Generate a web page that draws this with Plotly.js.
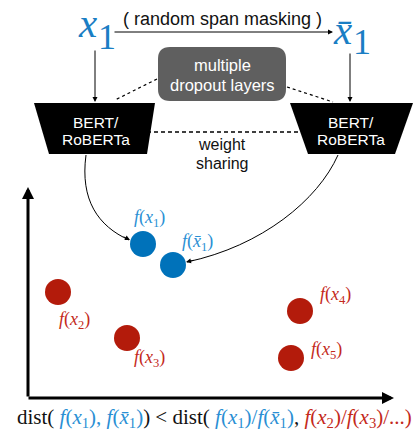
<!DOCTYPE html>
<html>
<head>
<meta charset="utf-8">
<script src="https://cdn.plot.ly/plotly-3.0.1.min.js"></script>
<style>html,body{margin:0;padding:0;background:#fff;}#chart{width:414px;height:435px;}</style>
</head>
<body>
<div id="chart"></div>
<script>
// ---- data ----
const embNames  = ['x1', 'x1bar', 'x2', 'x3', 'x4', 'x5'];
const embX      = [143, 173, 58, 127, 300, 291];
const embY      = [244, 265, 292, 338, 311, 358];
const embGroup  = ['pos', 'pos', 'neg', 'neg', 'neg', 'neg'];
const embLabels = ['<i>f</i>(<i>x</i><sub>1</sub>)', '<i>f</i>(<i>x̄</i><sub>1</sub>)',
                   '<i>f</i>(<i>x</i><sub>2</sub>)', '<i>f</i>(<i>x</i><sub>3</sub>)',
                   '<i>f</i>(<i>x</i><sub>4</sub>)', '<i>f</i>(<i>x</i><sub>5</sub>)'];
const labelX    = [149, 197, 74, 149, 335, 326];
const labelY    = [218, 242, 320, 358, 295, 350];

const BLUE_DOT = '#0072ba', RED_DOT = '#b31b0b';
const BLUE_TXT = '#2a8fd4', RED_TXT = '#c4291b', TOP_BLUE = '#1a7ec4';
const SERIF = 'Liberation Serif, DejaVu Serif, serif';
const SANS = 'Liberation Sans, Arial, sans-serif';

const traces = [{
  type: 'scatter', mode: 'markers',
  x: embX, y: embY,
  marker: {size: 26, color: embGroup.map(g => g === 'pos' ? BLUE_DOT : RED_DOT)},
  hoverinfo: 'skip', showlegend: false
}];

const ann = [];
function txt(x, y, text, size, color, family, extra) {
  ann.push(Object.assign({x, y, xref: 'x', yref: 'y', text, showarrow: false,
    xanchor: 'center', yanchor: 'middle', font: {size, color, family}}, extra || {}));
}
function arrow(x0, y0, x1, y1, w, head, size) {
  ann.push({x: x1, y: y1, ax: x0, ay: y0, xref: 'x', yref: 'y', axref: 'x', ayref: 'y',
    text: '', showarrow: true, arrowhead: head, arrowsize: size, arrowwidth: w, arrowcolor: '#000'});
}

// top inputs
txt(87, 23, '<i>x</i>', 41, TOP_BLUE, SERIF);
txt(107, 37, '1', 36, TOP_BLUE, SERIF);
txt(342, 30, '<i>x̄</i>', 41, TOP_BLUE, SERIF);
txt(362, 42, '1', 36, TOP_BLUE, SERIF);
txt(222, 19, '( random span masking )', 18, '#111', SANS);
arrow(113, 32, 333, 32, 1, 2, 1);
// down arrows
arrow(95, 49, 95, 102, 1, 2, 1);
arrow(350, 52, 350, 102, 1, 2, 1);
// dropout box text
txt(222, 65, 'multiple', 16.5, '#fff', SANS);
txt(222, 85, 'dropout layers', 16.5, '#fff', SANS);
// encoder text
txt(96, 122, 'BERT/', 15.5, '#fff', SANS);
txt(96, 139, 'RoBERTa', 15.5, '#fff', SANS);
txt(351, 122, 'BERT/', 15.5, '#fff', SANS);
txt(351, 139, 'RoBERTa', 15.5, '#fff', SANS);
txt(222, 144, 'weight', 16, '#111', SANS);
txt(222, 163, 'sharing', 16, '#111', SANS);
// curve arrowheads
arrow(122, 236, 130, 240, 1, 2, 1);
arrow(195, 260, 186, 262, 1, 2, 1);
// axes
arrow(28, 398, 28, 187, 3, 2, 0.8);
arrow(27, 398, 394, 398, 3, 2, 0.8);
// embedding labels
embLabels.forEach((t, i) => txt(labelX[i], labelY[i], t, 18,
  embGroup[i] === 'pos' ? BLUE_TXT : RED_TXT, SERIF));
// bottom formula
const B = s => `<span style="color:${BLUE_TXT}">${s}</span>`;
const R = s => `<span style="color:${RED_TXT}">${s}</span>`;
const formula = 'dist(' + B(' <i>f</i>(<i>x</i><sub>1</sub>), <i>f</i>(<i>x̄</i><sub>1</sub>)') + ') &lt; dist(' +
  B(' <i>f</i>(<i>x</i><sub>1</sub>)/<i>f</i>(<i>x̄</i><sub>1</sub>)') + ', ' +
  R('<i>f</i>(<i>x</i><sub>2</sub>)/<i>f</i>(<i>x</i><sub>3</sub>)/...)');
txt(214, 418, formula, 21, '#111', SERIF);

const shapes = [
  {type: 'path', xref: 'x', yref: 'y',
   path: 'M 170 47 L 274 47 Q 286 47 286 59 L 286 89 Q 286 101 274 101 L 170 101 Q 158 101 158 89 L 158 59 Q 158 47 170 47 Z',
   fillcolor: '#5f5f5f', line: {width: 0}, layer: 'below'},
  {type: 'path', xref: 'x', yref: 'y', path: 'M 34 103 L 155 103 L 147 154 L 49 154 Z', fillcolor: '#000', line: {width: 0}, layer: 'below'},
  {type: 'path', xref: 'x', yref: 'y', path: 'M 290 103 L 413 103 L 395 154 L 308 154 Z', fillcolor: '#000', line: {width: 0}, layer: 'below'},
  {type: 'line', xref: 'x', yref: 'y', x0: 147, x1: 298, y0: 132, y1: 132, line: {color: '#000', width: 1.5, dash: '4px,3px'}},
  {type: 'line', xref: 'x', yref: 'y', x0: 157, x1: 115, y0: 79, y1: 100, line: {color: '#000', width: 1.2, dash: 'dot'}},
  {type: 'line', xref: 'x', yref: 'y', x0: 287, x1: 333, y0: 87, y1: 102, line: {color: '#000', width: 1.2, dash: 'dot'}},
  {type: 'path', xref: 'x', yref: 'y', path: 'M 86 155 C 80 200, 98 226, 129 240', line: {color: '#000', width: 1}},
  {type: 'path', xref: 'x', yref: 'y', path: 'M 338 155 C 318 200, 262 246, 187 262', line: {color: '#000', width: 1}}
];

const layout = {
  width: 414, height: 435, margin: {l: 0, r: 0, t: 0, b: 0},
  paper_bgcolor: '#fff', plot_bgcolor: '#fff',
  xaxis: {range: [0, 414], visible: false, fixedrange: true},
  yaxis: {range: [435, 0], visible: false, fixedrange: true},
  shapes, annotations: ann, showlegend: false
};
Plotly.newPlot('chart', traces, layout, {staticPlot: true});
</script>
</body>
</html>
